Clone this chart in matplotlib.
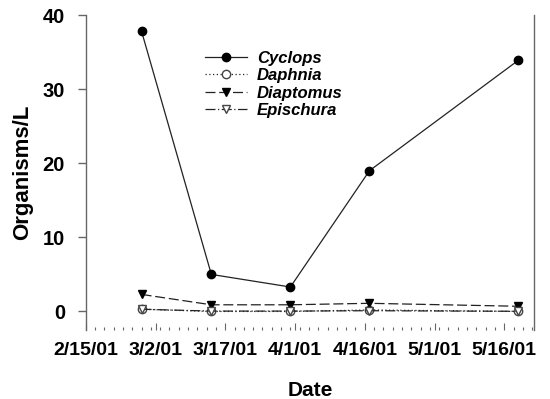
import numpy as np
import matplotlib
matplotlib.use("Agg")
import matplotlib.pyplot as plt
import matplotlib.dates as mdates
from matplotlib.ticker import FixedLocator
from datetime import datetime, timedelta

# sampling dates and densities (organisms per litre)
dates = ["2001-02-27", "2001-03-14", "2001-03-31", "2001-04-17", "2001-05-19"]
cyclops = [37.8, 5.0, 3.3, 19.0, 33.9]
daphnia = [0.3, 0.0, 0.0, 0.2, 0.0]
diaptomus = [2.3, 0.9, 0.9, 1.1, 0.7]
epischura = [0.3, 0.05, 0.05, 0.1, 0.02]

tick_labels = ["2/15/01", "3/2/01", "3/17/01", "4/1/01", "4/16/01", "5/1/01", "5/16/01"]

plt.rcParams["font.family"] = ["Liberation Sans", "DejaVu Sans"]

x = [datetime.strptime(d, "%Y-%m-%d") for d in dates]
start = datetime(2001, 2, 15)
major = [start + timedelta(days=15 * i) for i in range(len(tick_labels))]
minor = [start + timedelta(days=2 * i) for i in range(49)]

fig = plt.figure(figsize=(5.5, 3.99), dpi=100)
ax = fig.add_axes([0.156, 0.173, 0.815, 0.789])

lc = "#222222"
ax.plot(x, cyclops, color=lc, lw=0.9, ls="-", marker="o", ms=6,
        mfc="black", mec="black", label="Cyclops")
ax.plot(x, daphnia, color=lc, lw=0.9, ls=(0, (1, 2)), marker="o", ms=6,
        mfc="white", mec="#444444", label="Daphnia")
ax.plot(x, diaptomus, color=lc, lw=0.9, ls=(0, (8, 3)), marker="v", ms=6,
        mfc="black", mec="black", label="Diaptomus")
ax.plot(x, epischura, color=lc, lw=0.9, ls=(0, (8, 2, 1, 2)), marker="v", ms=6,
        mfc="white", mec="#444444", label="Epischura")

ax.set_xlim(mdates.date2num(start), mdates.date2num(start) + 96.4)
ax.set_ylim(-2.5, 40)

ax.xaxis.set_major_locator(FixedLocator(mdates.date2num(major)))
ax.xaxis.set_minor_locator(FixedLocator(mdates.date2num(minor)))
ax.set_xticklabels(tick_labels)
ax.set_yticks([0, 10, 20, 30, 40])

for side in ["top", "bottom"]:
    ax.spines[side].set_visible(False)
for side in ["left", "right"]:
    ax.spines[side].set_color("#666666")
    ax.spines[side].set_linewidth(1.0)

ax.tick_params(axis="y", direction="out", length=6, width=1, color="#666666",
               labelsize=14.5, pad=9)
ax.tick_params(axis="x", which="major", direction="in", length=5, width=0.8,
               color="#666666", labelsize=14, pad=8.5)
ax.tick_params(axis="x", which="minor", direction="in", length=2, width=0.8,
               color="#666666")
for lab in ax.get_xticklabels() + ax.get_yticklabels():
    lab.set_fontweight("bold")

ax.set_xlabel("Date", fontsize=15, fontweight="bold", va="top")
ax.set_ylabel("Organisms/L", fontsize=16, fontweight="bold", va="center")
ax.xaxis.set_label_coords(0.5, -0.163)
ax.yaxis.set_label_coords(-0.14, 0.5)

leg = ax.legend(loc="upper left", bbox_to_anchor=(0.233, 0.935), frameon=False,
                prop={"size": 12, "weight": "bold", "style": "italic"},
                handlelength=2.5, labelspacing=0.15, handletextpad=0.6)

fig.savefig("out.png", dpi=100)
